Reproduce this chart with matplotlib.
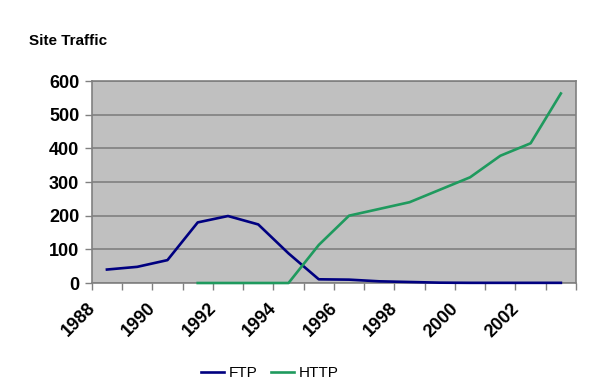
import matplotlib.pyplot as plt
import numpy as np

years = list(range(1988, 2004))
ftp = [40, 48, 68, 180, 199, 174, 88, 11, 10, 5, 3, 1, 0.5, 0.5, 0.5, 0.5]
http = [None, None, None, 0, 0, 0, 0, 113, 200, 220, 240, 277, 314, 378, 415, 563]
tick_labels = ['1988', '1990', '1992', '1994', '1996', '1998', '2000', '2002']

plt.rcParams['font.family'] = ['Liberation Sans', 'DejaVu Sans']

fig = plt.figure(figsize=(6, 3.88), dpi=100)
ax = fig.add_axes([0.153, 0.2706, 0.807, 0.5206])
ax.set_facecolor('#C0C0C0')

x = np.arange(len(years)) + 0.5
ax.plot(x, ftp, color='#000080', lw=1.9, label='FTP', clip_on=False, zorder=4)
hx = [xi for xi, v in zip(x, http) if v is not None]
hy = [v for v in http if v is not None]
ax.plot(hx, hy, color='#1F9A5E', lw=1.9, label='HTTP', clip_on=False, zorder=4)

ax.set_xlim(0, len(years))
ax.set_ylim(0, 600)
ax.set_yticks(range(0, 601, 100))
ax.yaxis.grid(True, color='#808080', lw=1.2)
ax.set_axisbelow(True)

ax.set_xticks(range(len(years) + 1), minor=False)
ax.set_xticklabels([''] * (len(years) + 1))
for i, lab in enumerate(tick_labels):
    ax.text(2 * i + 0.03, -68, lab, rotation=45, rotation_mode='anchor',
            ha='right', va='center', fontsize=13, fontweight='bold')

ax.tick_params(axis='y', labelsize=13, length=5, color='#808080', width=1, pad=4)
for t in ax.get_yticklabels():
    t.set_fontweight('bold')
ax.tick_params(axis='x', length=5, color='#808080', width=1)
for s in ax.spines.values():
    s.set_color('#808080')
    s.set_linewidth(1.2)
    s.set_zorder(2)

fig.text(0.048, 0.885, 'Site Traffic', fontsize=11, fontweight='bold')

leg = fig.legend(loc='center', bbox_to_anchor=(0.45, 0.039), ncol=2, frameon=False,
                 fontsize=11, handlelength=1.5, handletextpad=0.3, columnspacing=0.9)

fig.savefig('out.png', dpi=100)
